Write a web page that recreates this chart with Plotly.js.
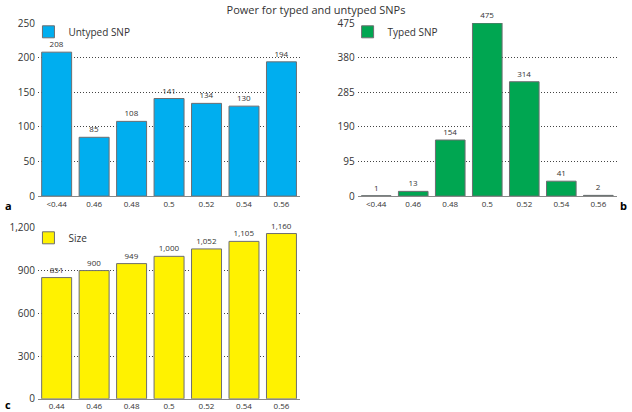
<!DOCTYPE html>
<html><head><meta charset="utf-8">
<script src="https://cdn.plot.ly/plotly-3.0.1.min.js"></script>
<style>html,body{margin:0;padding:0;background:#fff}</style>
</head><body><div id="chart" style="width:632px;height:412px"></div>
<script>
const catsAB = ["<0.44","0.46","0.48","0.5","0.52","0.54","0.56"];
const catsC = ["0.44","0.46","0.48","0.5","0.52","0.54","0.56"];
const untyped = [208,85,108,141,134,130,194];
const typed = [1,13,154,475,314,41,2];
const size = [851,900,949,1000,1052,1105,1160];

const font = "Open Sans, Liberation Sans, sans-serif";
const lineCol = '#6d6e71';
function bar(x, y, name, color, xa, ya, leg){
  return {type:'bar', x:x, y:y, name:name, xaxis:xa, yaxis:ya, legend:leg,
    marker:{color:color, line:{color:lineCol, width:1}},
    text:y, texttemplate:'%{y:,}', textposition:'outside', cliponaxis:false,
    textfont:{size:8, color:'#333', family:font}, showlegend:true};
}
const data = [
  bar(catsAB, untyped, 'Untyped SNP', '#00aeef', 'x', 'y', 'legend'),
  bar(catsAB, typed, 'Typed SNP', '#00a651', 'x2', 'y2', 'legend2'),
  bar(catsC, size, 'Size', '#fff200', 'x3', 'y3', 'legend3')
];
function xa(dom, anchor){
  return {domain:dom, anchor:anchor, type:'category', showline:true, linecolor:'#888', linewidth:1,
    showgrid:false, ticks:'', ticklen:0, tickfont:{size:8, color:'#333', family:font}};
}
function ya(dom, anchor, range, dtick){
  return {domain:dom, anchor:anchor, range:range, dtick:dtick, tick0:0, showline:false,
    showgrid:true, gridcolor:'#444', griddash:'1px,2px', gridwidth:1, zeroline:false, ticks:'',
    tickfont:{size:10, color:'#333', family:font}, tickformat:',d', ticklabelstandoff:2};
}
const leg = (x,y)=>({x:x, y:y, xanchor:'left', yanchor:'top', bgcolor:'rgba(0,0,0,0)',
  font:{size:10, color:'#333', family:font}, itemwidth:30, tracegroupgap:0});
const layout = {
  width:632, height:412, margin:{l:0,r:0,t:0,b:0},
  paper_bgcolor:'#fff', plot_bgcolor:'#fff', separators:'.,',
  bargap:0.2, showlegend:true,
  font:{family:font, color:'#333'},
  title:{text:'Power for typed and untyped SNPs', x:0.5, xanchor:'center', y:0.985, yanchor:'top', font:{size:11, color:'#333', family:font}},
  xaxis: xa([0.060,0.475],'y'),
  yaxis: ya([0.524,0.944],'x',[0,250],50),
  xaxis2: xa([0.566,0.976],'y2'),
  yaxis2: ya([0.524,0.944],'x2',[0,475],95),
  xaxis3: xa([0.060,0.475],'y3'),
  yaxis3: ya([0.032,0.447],'x3',[0,1200],300),
  legend: leg(0.045,0.958),
  legend2: leg(0.550,0.958),
  legend3: leg(0.045,0.458),
  annotations:[
    {text:'<b>a</b>', x:0.004, y:1-205/412, xref:'paper', yref:'paper', xanchor:'left', yanchor:'middle', showarrow:false, font:{size:11,color:'#000',family:font}},
    {text:'<b>b</b>', x:0.996, y:1-205/412, xref:'paper', yref:'paper', xanchor:'right', yanchor:'middle', showarrow:false, font:{size:11,color:'#000',family:font}},
    {text:'<b>c</b>', x:0.004, y:1-404/412, xref:'paper', yref:'paper', xanchor:'left', yanchor:'middle', showarrow:false, font:{size:11,color:'#000',family:font}}
  ]
};
Plotly.newPlot('chart', data, layout, {displayModeBar:false, staticPlot:true});
</script></body></html>
